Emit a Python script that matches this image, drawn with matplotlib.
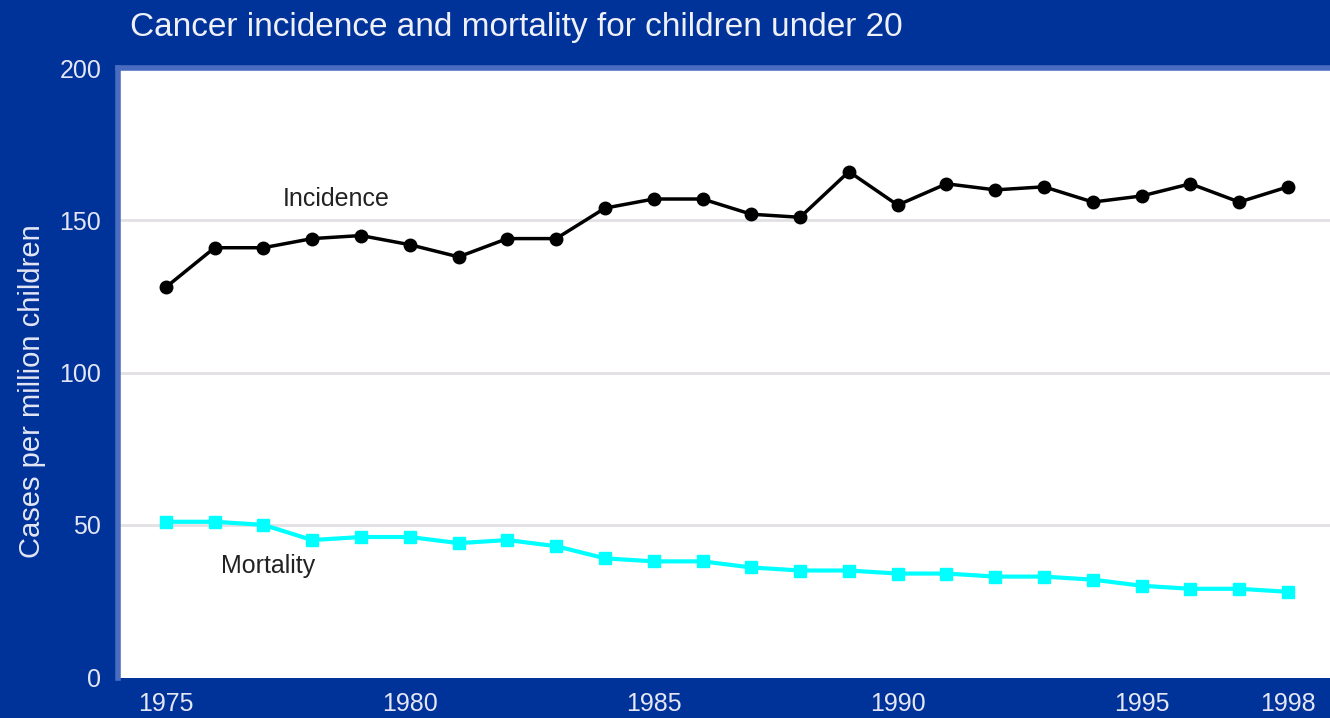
import matplotlib.pyplot as plt

years = list(range(1975, 1999))
incidence = [128, 141, 141, 144, 145, 142, 138, 144, 144, 154, 157, 157,
             152, 151, 166, 155, 162, 160, 161, 156, 158, 162, 156, 161]
mortality = [51, 51, 50, 45, 46, 46, 44, 45, 43, 39, 38, 38,
             36, 35, 35, 34, 34, 33, 33, 32, 30, 29, 29, 28]
xticks = [1975, 1980, 1985, 1990, 1995, 1998]
yticks = [0, 50, 100, 150, 200]

bg = '#00339a'
plt.rcParams['font.family'] = ['Liberation Sans', 'DejaVu Sans']

fig = plt.figure(figsize=(13.3, 7.18), dpi=100, facecolor=bg)
ax = fig.add_axes([0.0887, 0.0557, 0.9113, 0.8495])
ax.set_facecolor('white')

for y in [50, 100, 150]:
    ax.axhline(y, color='#e2e0e4', lw=2, zorder=1)

ax.plot(years, mortality, color='#00ffff', lw=3, marker='s', markersize=8,
        zorder=3)
ax.plot(years, incidence, color='black', lw=2.5, marker='o', markersize=9,
        zorder=3)

ax.text(1978.5, 157, 'Incidence', fontsize=18, color='#222222',
        ha='center', va='center')
ax.text(1977.1, 36.5, 'Mortality', fontsize=18, color='#222222',
        ha='center', va='center')

ax.set_xlim(1974.02, 1998.86)
ax.set_ylim(-0.3, 199.7)
ax.set_xticks(xticks)
ax.set_yticks(yticks)
ax.tick_params(length=0, colors='#e4e6f4', labelsize=18, pad=12)
ax.tick_params(axis='x', pad=10)
for s in ['right', 'bottom']:
    ax.spines[s].set_visible(False)
for s in ['left', 'top']:
    ax.spines[s].set_color('#4a6cc0')
    ax.spines[s].set_linewidth(4)

fig.text(0.024, 0.455, 'Cases per million children', fontsize=21,
         color='#e4e6f4', rotation=90, ha='center', va='center')
fig.text(0.098, 0.962, 'Cancer incidence and mortality for children under 20',
         fontsize=24, color='#f0f0f8', ha='left', va='center')

fig.savefig('out.png', dpi=100, facecolor=bg)
